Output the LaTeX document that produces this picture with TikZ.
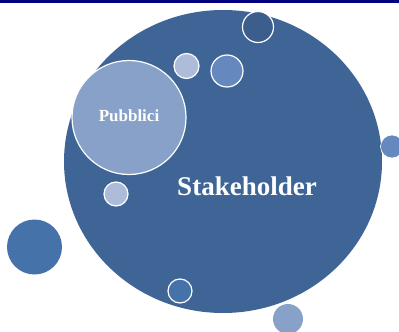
\documentclass[tikz,border=0pt]{standalone}
\usepackage{fontspec}
\setmainfont{Liberation Serif}
\usetikzlibrary{shapes.geometric}
\definecolor{bigblue}{RGB}{62,101,150}
\definecolor{midblue}{RGB}{135,161,200}
\definecolor{lightblue}{RGB}{173,188,217}
\definecolor{brightblue}{RGB}{101,137,190}
\definecolor{darkblue}{RGB}{59,94,140}
\definecolor{leftblue}{RGB}{70,114,170}
\definecolor{navybar}{RGB}{0,0,128}
\tikzset{
  bubble/.style={circle, inner sep=0pt, draw=white, line width=1.2pt},
  plainbubble/.style={circle, inner sep=0pt, draw=none},
}
\begin{document}
\begin{tikzpicture}[x=1pt,y=-1pt]
\useasboundingbox (0,0) rectangle (399,332);
\fill[navybar] (0,0) rectangle (399,3);
% big ellipse
\node[ellipse, inner sep=0pt, fill=bigblue, minimum width=318pt, minimum height=303pt] (bigc) at (223,161.5) {};
\node[font=\bfseries\fontsize{27}{27}\selectfont, text=white] (stake) at (247,186) {Stakeholder};
% Pubblici
\node[bubble, fill=midblue, minimum size=114pt, font=\bfseries\fontsize{17}{17}\selectfont, text=white] (pub) at (129,117.5) {};
\node[font=\bfseries\fontsize{17}{17}\selectfont, text=white] (pubtext) at (129,115.5) {Pubblici};
% small circles
\node[bubble, fill=darkblue, minimum size=31pt] (c1) at (258,27) {};
\node[bubble, fill=lightblue, minimum size=25pt] (c2) at (186.5,66) {};
\node[bubble, fill=brightblue, minimum size=32pt] (c3) at (227,71) {};
\node[bubble, fill=brightblue, minimum size=23pt, line width=0.6pt] (c4) at (392,146.5) {};
\node[bubble, fill=lightblue, minimum size=24pt] (c5) at (116,194) {};
\node[plainbubble, fill=leftblue, minimum size=55pt] (c6) at (34.5,247) {};
\node[bubble, fill=leftblue, minimum size=24pt] (c7) at (180,291) {};
\node[plainbubble, fill=midblue, minimum size=30pt] (c8) at (288,319) {};
\end{tikzpicture}
\end{document}
